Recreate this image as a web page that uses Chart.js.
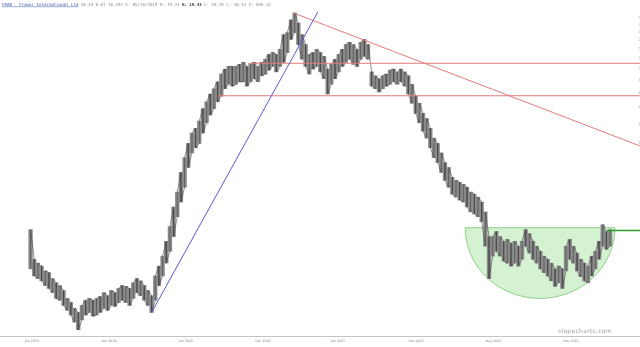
<!DOCTYPE html>
<html lang="en">
<head>
<meta charset="UTF-8">
<title>FRAB - Fraser International Ltd</title>
<script src="https://cdn.jsdelivr.net/npm/chart.js"></script>
<style>
  html, body { margin: 0; padding: 0; background: #fff; }
  #wrap { position: relative; width: 640px; height: 347px; }
</style>
</head>
<body>
<div id="wrap"><canvas id="chart"></canvas></div>
<script>
// price bars (high / low), one every 6 trading days starting at day 50
const firstDay = 50;
const step = 6;
const highs = [
  4.50, 3.42, 3.30, 3.21, 3.07, 3.02, 2.86, 2.75, 2.68, 2.56,
  2.38, 2.29, 2.17, 2.09, 2.23, 2.34, 2.38, 2.34, 2.38, 2.42,
  2.51, 2.44, 2.56, 2.51, 2.61, 2.68, 2.66, 2.61, 2.75, 2.86,
  2.80, 2.68, 2.56, 2.44,
  2.93, 3.21, 3.52, 4.04, 4.63, 5.55, 6.37, 7.64, 8.76, 10.0,
  11.0, 11.5, 12.3, 13.8, 14.7, 15.8, 16.6, 17.7, 19.0, 19.9,
  20.4, 20.4, 20.4, 20.8, 21.2, 20.4, 20.8, 21.2, 20.4, 21.2,
  21.8, 22.8, 23.2, 22.8, 23.9, 27.4, 27.9, 31.4, 33.5, 30.5,
  27.4, 25.0, 22.8, 23.2, 23.9, 23.2, 22.4, 19.9, 20.8, 21.8,
  22.8, 23.9, 25.0, 25.5, 25.0, 23.9, 25.5, 26.2, 25.0,
  19.4, 18.7, 18.2, 18.7, 19.0, 19.7, 19.9, 19.4, 19.9, 19.4,
  18.7, 17.3, 15.5, 14.5, 13.2, 12.6, 11.5, 10.5, 10.0, 9.16,
  8.37, 8.00, 7.30, 7.10, 6.97, 6.85, 6.66, 6.37, 6.25, 6.08,
  5.81, 5.30, 4.22, 4.22, 4.42, 4.22, 4.04, 4.11, 3.97, 4.04,
  3.86, 4.04, 4.50, 4.34, 4.04, 3.86, 3.68, 3.52, 3.42, 3.30,
  3.13, 3.21, 3.13, 3.86, 4.11, 3.86, 3.62, 3.42, 3.30, 3.21,
  3.52, 3.68, 4.04, 4.71, 4.42, 4.50
];
const lows = [
  3.13, 2.93, 2.86, 2.80, 2.68, 2.61, 2.51, 2.38, 2.34, 2.23,
  2.13, 2.04, 1.91, 1.78, 1.95, 2.04, 2.09, 2.02, 2.04, 2.09,
  2.17, 2.13, 2.23, 2.21, 2.29, 2.34, 2.29, 2.23, 2.38, 2.51,
  2.44, 2.34, 2.23, 2.09,
  2.34, 2.68, 2.93, 3.30, 3.68, 4.22, 5.07, 5.81, 6.66, 8.00,
  9.16, 9.60, 10.0, 11.0, 12.1, 13.0, 13.8, 14.7, 15.5, 16.6,
  17.3, 17.0, 17.3, 17.7, 17.7, 17.0, 17.7, 18.2, 17.7, 18.7,
  19.0, 19.7, 20.4, 19.4, 20.4, 21.2, 23.2, 26.2, 27.9, 25.0,
  21.8, 20.4, 19.0, 19.9, 20.4, 19.4, 18.2, 15.8, 17.3, 18.2,
  19.4, 20.4, 21.2, 21.8, 20.8, 20.4, 21.8, 22.4, 21.8,
  17.0, 16.6, 16.1, 16.6, 17.0, 17.3, 17.7, 17.3, 17.7, 17.0,
  15.8, 14.5, 13.2, 12.1, 11.2, 10.5, 9.60, 8.76, 8.37, 7.64,
  7.10, 6.66, 6.25, 6.08, 5.92, 5.81, 5.55, 5.30, 5.20, 5.07,
  4.84, 3.86, 2.86, 3.52, 3.68, 3.52, 3.36, 3.30, 3.21, 3.30,
  3.21, 3.42, 3.86, 3.62, 3.42, 3.30, 3.13, 3.02, 2.93, 2.80,
  2.66, 2.75, 2.61, 3.07, 3.42, 3.30, 3.07, 2.91, 2.80, 2.75,
  2.93, 3.13, 3.42, 3.86, 3.75, 3.86
];

// axis
const dayMax = 1047;
const priceMin = 1.68, priceMax = 36;
const priceTicks = [2, 4, 6, 8, 10, 12, 14, 16, 18, 20, 22, 24, 26, 28, 30, 32];
const dateTickDays = [52, 178, 304, 430, 553, 681, 807, 934];
const dateTickLabels = ['Jun 2019', 'Dec 2019', 'Jun 2020', 'Dec 2020', 'Jun 2021', 'Nov 2021', 'May 2022', 'Nov 2022'];

// drawn studies: [day, price] pairs
const blueTrend = [[248, 2.09], [520, 33.8]];
const redTrend = [[481, 33.4], [1047, 9.77]];
const redUpper = [[406, 21.0], [1047, 21.0]];
const redLower = [[357, 15.55], [1047, 15.55]];
const greenLevel = [[993, 4.46], [1047, 4.46]];
const bowl = { start: 761, end: 1006, rim: 4.58, floor: 2.38 };

const headerName = 'FRAB - Fraser International Ltd';
const headerParts = [
  [' 44.44 6.87 18.29% D: 05/10/2019 O: 19.33 ', false],
  ['H: 19.43', true],
  [' L: 18.29 C: 18.34 V: 506.14', false]
];

const bars = highs.map((h, i) => ({ x: firstDay + step * i, y: [lows[i], h] }));
// thin trace through every bar's low and high for the jagged texture
const path = [];
highs.forEach((h, i) => {
  const d = firstDay + step * i;
  if (i % 2) { path.push({ x: d, y: h }, { x: d, y: lows[i] }); }
  else { path.push({ x: d, y: lows[i] }, { x: d, y: h }); }
});
const pts = arr => arr.map(p => ({ x: p[0], y: p[1] }));

function lineSet(arr, color, width) {
  return {
    type: 'line', data: pts(arr), borderColor: color, borderWidth: width,
    pointRadius: 0, fill: false, tension: 0, order: 0
  };
}

const bowlPlugin = {
  id: 'bowl',
  beforeDatasetsDraw(chart) {
    const { ctx, scales: { x, y }, chartArea } = chart;
    const x0 = x.getPixelForValue(bowl.start);
    const x1 = x.getPixelForValue(bowl.end);
    const yt = y.getPixelForValue(bowl.rim);
    const yb = y.getPixelForValue(bowl.floor);
    ctx.save();
    ctx.beginPath();
    ctx.rect(chartArea.left, chartArea.top, chartArea.width, chartArea.height);
    ctx.clip();
    ctx.beginPath();
    ctx.ellipse((x0 + x1) / 2, yt, (x1 - x0) / 2, yb - yt, 0, 0, Math.PI);
    ctx.closePath();
    ctx.fillStyle = 'rgba(170, 230, 165, 0.5)';
    ctx.fill();
    ctx.strokeStyle = '#8ccf86';
    ctx.lineWidth = 1;
    ctx.stroke();
    ctx.restore();
  }
};

const textPlugin = {
  id: 'texts',
  afterDraw(chart) {
    const ctx = chart.ctx;
    const size = '4.1px "DejaVu Sans Mono"';
    ctx.save();
    ctx.textBaseline = 'alphabetic';
    ctx.font = size;
    let x = 2;
    const base = 6;
    ctx.fillStyle = '#3a55b0';
    ctx.fillText(headerName, x, base);
    const w = ctx.measureText(headerName).width;
    ctx.fillRect(x, base + 0.6, w, 0.5);
    x += w;
    headerParts.forEach(([t, bold]) => {
      ctx.font = (bold ? 'bold ' : '') + size;
      ctx.fillStyle = bold ? '#333' : '#888';
      ctx.fillText(t, x, base);
      x += ctx.measureText(t).width;
    });
    ctx.font = '6px "DejaVu Sans"';
    ctx.letterSpacing = '0.3px';
    ctx.fillStyle = '#9a9a9a';
    ctx.fillText('slopecharts.com', 558, 333);
    ctx.restore();
  }
};

new Chart(document.getElementById('chart'), {
  data: {
    datasets: [
      lineSet(blueTrend, '#5a5ad6', 1),
      lineSet(redTrend, '#e37b7b', 1),
      lineSet(redUpper, '#e37b7b', 1),
      lineSet(redLower, '#e37b7b', 1),
      lineSet(greenLevel, '#2f9e2f', 1.5),
      {
        type: 'bar', data: bars, backgroundColor: '#8a8a8a', borderWidth: 0,
        barThickness: 3.7, order: 2
      },
      {
        type: 'line', data: path, borderColor: '#444', borderWidth: 0.6,
        pointRadius: 0, fill: false, tension: 0, order: 1
      }
    ]
  },
  options: {
    responsive: true,
    maintainAspectRatio: false,
    animation: false,
    layout: { padding: 0 },
    plugins: { legend: { display: false }, tooltip: { enabled: false } },
    scales: {
      x: {
        type: 'linear', min: 0, max: dayMax, offset: false,
        grid: { display: false, drawTicks: false },
        border: { display: true, color: '#c4c4c4', width: 1 },
        afterBuildTicks: s => { s.ticks = dateTickDays.map(v => ({ value: v })); },
        afterFit: s => { s.height = 11; },
        ticks: {
          autoSkip: false, maxRotation: 0, padding: 3,
          font: { size: 3.2, family: 'DejaVu Sans' }, color: '#888',
          callback: (v) => dateTickLabels[dateTickDays.indexOf(v)]
        }
      },
      y: {
        type: 'logarithmic', position: 'right', min: priceMin, max: priceMax,
        grid: { display: false, drawTicks: false },
        border: { display: false },
        afterBuildTicks: s => { s.ticks = priceTicks.map(v => ({ value: v })); },
        afterFit: s => { s.width = 0; },
        ticks: {
          mirror: true, padding: 3, autoSkip: false,
          font: { size: 3.5, family: 'DejaVu Sans' }, color: '#999',
          callback: v => String(v)
        }
      }
    }
  },
  plugins: [bowlPlugin, textPlugin]
});
</script>
</body>
</html>
